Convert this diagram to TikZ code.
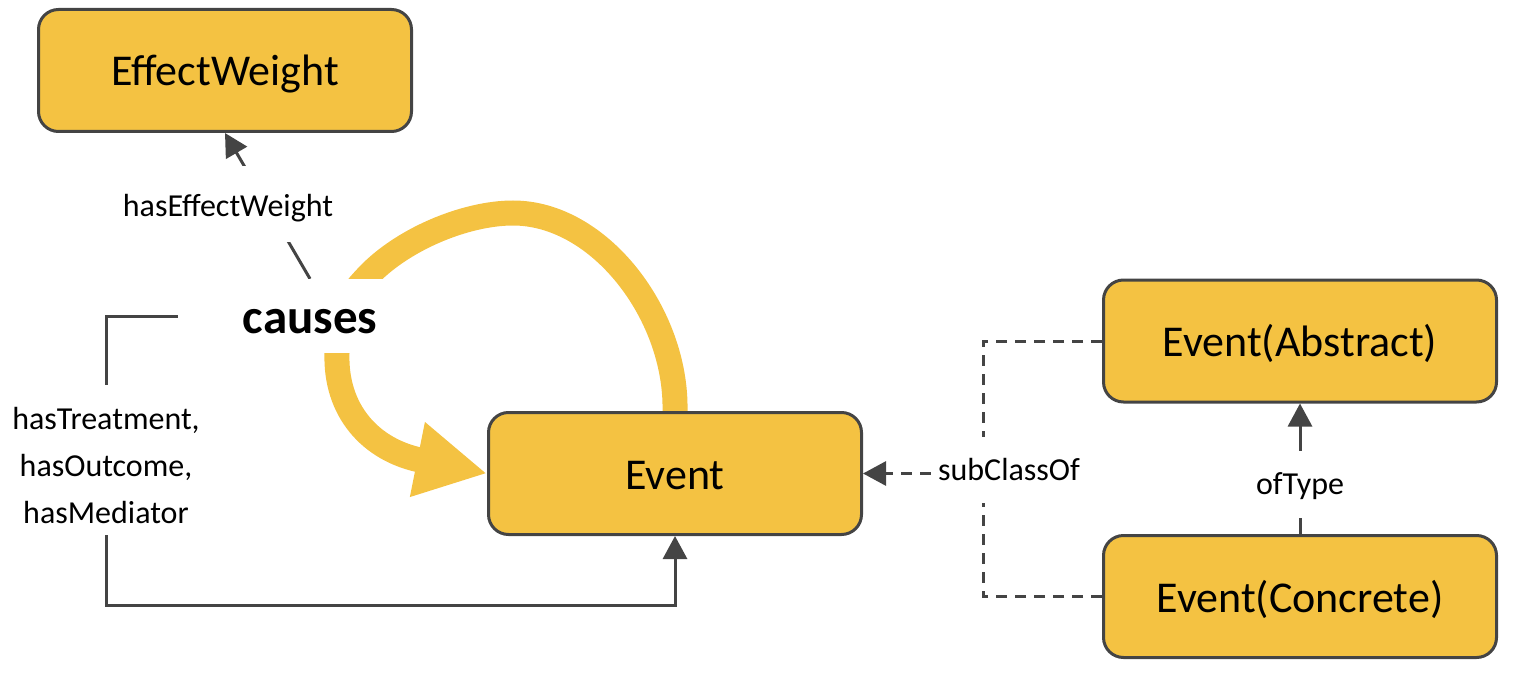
\documentclass[tikz,border=0pt]{standalone}
\usepackage{fontspec}
\setmainfont{Carlito}
\usetikzlibrary{arrows.meta,backgrounds}
\definecolor{ybox}{HTML}{F4C242}
\definecolor{edgegray}{HTML}{444444}
\begin{document}
\begin{tikzpicture}[x=1pt,y=-1pt,
  box/.style={draw=edgegray, line width=3pt, fill=ybox, rounded corners=20pt, minimum width=373pt, minimum height=122pt, font=\fontsize{44}{50}\selectfont, inner sep=0pt, text height=31pt, text depth=0pt},
  widebox/.style={box, minimum width=393pt},
  conn/.style={draw=edgegray, line width=3pt},
  gtip/.style={-{Triangle[length=23pt,width=24pt]}},
  lbl/.style={fill=white, font=\fontsize{32}{47}\selectfont, inner sep=0pt, align=center},
  onelbl/.style={lbl, text height=20pt, text depth=0pt},
  dashline/.style={conn, dash pattern=on 11pt off 8pt},
  bigarrow/.style={draw=ybox, line width=25pt, -{Triangle[length=71pt,width=71pt]}}
]
\useasboundingbox (0,0) rectangle (1514,676);
\node[box] (ew) at (225,70.5) {EffectWeight};
\node[box] (ev) at (675,473.5) {Event};
\node[widebox] (abs) at (1300,341) {Event(Abstract)};
\node[widebox] (con) at (1300,596.5) {Event(Concrete)};
\node[fill=white, minimum width=264pt, minimum height=74pt, inner sep=0pt, text height=34pt, text depth=0pt, font=\fontsize{49}{52}\selectfont\bfseries] (causes) at (310,316) {causes};
\coordinate (l1) at (106,316);
\coordinate (l2) at (106,605);
\coordinate (sj) at (983,473.5);
\begin{scope}[on background layer]
\draw[bigarrow] (ev.north) .. controls (677,315) and (600,213) .. (513,213) .. controls (465,213) and (400,240) .. (365,279) .. controls (336,310) and (335,330) .. (337,353) .. controls (335,410) and (370,450) .. (ev.west);
\draw[conn, gtip] (causes.north) -- (ew.south);
\draw[conn, gtip] (causes.west) -- (l1) -- (l2) -| (ev.south);
\draw[dashline, gtip] (abs.west) -| (sj) -- (ev.east);
\draw[dashline] (con.west) -| (sj);
\draw[conn, gtip] (con.north) -- (abs.south);
\end{scope}
\node[onelbl, text height=25pt, minimum width=230pt, minimum height=76pt] (lew) at (228,204) {hasEffectWeight};
\node[lbl, minimum height=150pt] (ltr) at (106,460) {\rule{0pt}{34pt}hasTreatment,\\hasOutcome,\\hasMediator};
\node[onelbl, minimum height=66pt] (lsc) at (1009,470) {subClassOf};
\node[onelbl, minimum height=67pt] (lot) at (1300,484) {ofType};
\end{tikzpicture}
\end{document}
